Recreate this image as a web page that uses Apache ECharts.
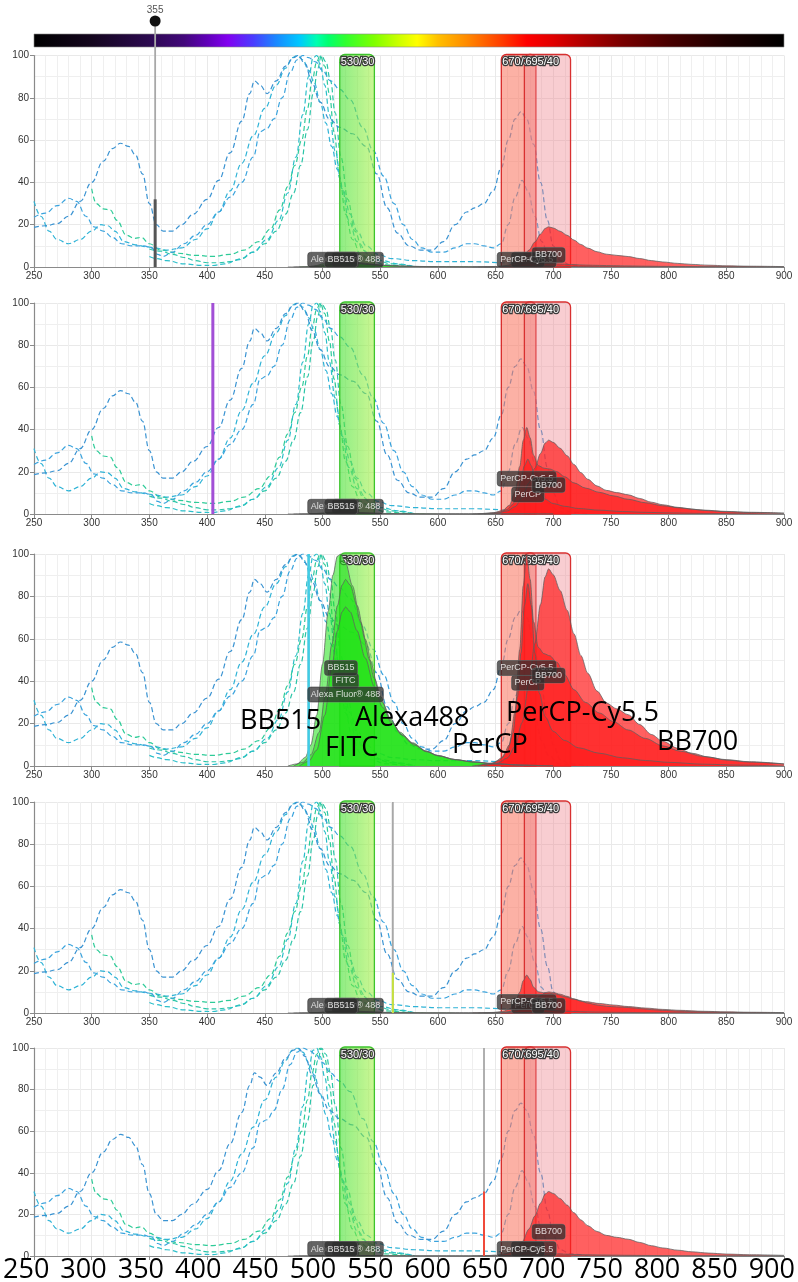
<!DOCTYPE html>
<html><head><meta charset="utf-8">
<script src="https://cdn.jsdelivr.net/npm/echarts/dist/echarts.min.js"></script>
<style>html,body{margin:0;padding:0;background:#fff}#c{width:798px;height:1282px}</style>
</head><body><div id="c"></div>
<script>
// ---------------- DATA ----------------
const xTicks = [250, 300, 350, 400, 450, 500, 550, 600, 650, 700, 750, 800, 850, 900];
const lasers = [355, 405, 488, 561, 640];
const laserSegHeight = [32, 100, 100, 19, 31];

const filterNames = ['530/30', '670/30', '695/40'];
const filterLo = [515, 655, 675];
const filterHi = [545, 685, 715];

// drawing order of the fluorochromes (later ones on top)
const fluorNames = ['FITC', 'Alexa Fluor® 488', 'BB515', 'PerCP', 'PerCP-Cy5.5', 'BB700'];

// excitation spectra (dashed)
const excFITC = [[300,37],[304,30],[310,27.5],[316,27],[322,22],[330,15],[337,13.5],[343,14],[350,11],[360,8],[375,6.5],[390,5.5],[405,5],[420,6],[432,8],[445,12],[455,18],[463,27],[470,38],[476,48],[482,60],[487,75],[491,88],[495,97],[498,100],[502,95],[506,82],[510,64],[515,42],[520,25],[526,13],[533,6],[542,3],[555,1],[575,0]];
const excAlexa = [[350,8.5],[360,7.5],[370,6],[380,4.5],[390,3],[400,2],[410,2],[420,2.5],[430,4],[440,7],[450,11],[460,17],[468,25],[475,35],[481,48],[487,65],[492,82],[496,94],[499,100],[503,97],[507,88],[511,73],[516,52],[522,32],[528,17],[535,8],[545,3.5],[560,1.5],[580,0]];
const excBB515 = [[350,5],[356,4],[365,3],[380,1.5],[395,0.8],[405,0.7],[415,1.5],[428,3.5],[440,7],[452,13],[462,22],[470,35],[477,52],[483,72],[488,90],[492,99],[495,100],[498,96],[502,86],[506,72],[511,55],[517,37],[523,22],[530,12],[540,6],[552,3],[565,1.5],[580,0]];
const excPerCP = [[250,31],[256,24],[263,17],[270,13],[280,11],[290,13],[300,17],[308,20],[314,19.5],[320,17],[328,12],[338,10.5],[348,9.5],[355,9],[365,8],[378,9],[390,13],[400,18],[410,26],[420,36],[430,49],[440,62],[450,75],[460,86],[468,94],[474,99],[478,100],[483,98],[488,93],[493,87],[498,78],[503,68],[508,57],[513,46],[518,36],[524,25],[530,17],[538,10],[548,6],[560,4],[580,3],[600,2.5],[630,2.5],[660,2],[680,1],[700,0]];
const excPerCPCy55 = [[250,23.5],[260,25.5],[270,29],[280,32.5],[287,31],[295,24],[302,19],[310,17],[318,14],[326,11],[335,10],[345,10],[352,9],[357,6],[362,5],[370,7],[380,11],[390,15],[400,20],[410,26],[420,33],[430,40],[440,52],[446,64],[452,65.5],[458,70],[465,80],[472,92],[478,98],[483,100],[488,99],[494,97],[500,93],[507,88],[515,84],[524,79],[535,66],[544,55],[553,43],[562,30],[570,20],[578,13],[586,9],[595,7],[605,7],[615,9],[625,11],[632,11],[640,10],[648,9],[655,11],[661,20],[667,33],[673,41],[678,36],[684,24],[690,12],[696,5],[705,1],[720,0]];
const excBB700 = [[250,18.7],[260,19.5],[270,20.5],[280,24],[290,31],[300,40],[310,50],[318,56],[325,58.5],[332,57],[338,53],[344,44],[350,30],[356,20],[362,17],[370,17],[378,20],[388,25],[400,32],[410,41],[420,54],[430,69],[437,82],[441,88],[446,86],[452,82],[460,88],[468,95],[475,99],[479,100],[485,96],[491,87],[498,78],[506,70],[515,66],[526,63],[538,57],[547,44],[556,28],[565,16],[575,10],[585,8],[595,8],[605,12],[615,20],[625,26],[632,28],[640,30],[648,36],[655,47],[661,60],[667,70],[672,73.5],[677,70],[683,58],[689,40],[695,22],[700,10],[706,3],[715,1],[730,0]];

// emission spectra (normalised shapes, filled)
const emFITC = [[475,0],[483,2],[490,6],[497,18],[503,40],[508,65],[513,86],[517,97],[520,100],[524,97],[530,86],[537,68],[545,47],[552,34],[560,24],[568,17],[578,12],[590,8],[600,5.5],[615,3.5],[630,2.2],[650,1.2],[670,0.5],[700,0]];
const emAlexa = [[480,0],[488,3],[495,10],[502,32],[508,62],[513,85],[517,97],[520,100],[524,97],[530,85],[537,68],[545,50],[552,37],[560,27],[570,19],[580,13],[590,9],[600,6.5],[615,4],[630,2.5],[650,1.3],[670,0.6],[700,0]];
const emBB515 = [[470,0],[478,1],[485,4],[490,10],[495,24],[500,48],[505,73],[509,90],[513,99],[516,100],[520,96],[526,85],[533,68],[541,50],[550,33],[558,23],[567,16],[578,11],[590,7],[600,5],[615,3],[630,2],[650,1],[680,0]];
const emPerCP = [[630,0],[645,1],[653,3],[660,8],[665,18],[669,38],[672,62],[675,88],[678,100],[681,88],[684,62],[688,40],[693,27],[700,19],[710,14],[722,10],[740,7],[760,4.5],[780,3],[800,2],[830,1],[860,0.5],[900,0]];
const emPerCPCy55 = [[635,0],[648,1.5],[656,4],[662,10],[667,26],[671,55],[674,85],[677,100],[680,88],[683,68],[687,56],[692,53],[697,52],[703,49],[710,43],[718,36],[728,30],[740,25],[752,21],[765,17],[780,13],[795,9.5],[810,7],[830,4.5],[850,3],[870,2],[900,1]];
const emBB700 = [[640,0],[652,1.5],[660,4],[667,10],[673,22],[679,42],[684,62],[689,82],[693,96],[696,100],[700,97],[706,89],[712,79],[718,67],[724,56],[730,47],[738,38],[746,32],[755,29],[765,26],[775,21],[785,16],[795,12.5],[808,9],[820,6.5],[835,4.5],[850,3],[870,2],[900,1]];

// per-laser emission brightness (355, 405, 488, 561, 640)
const scaleFITC     = [2, 0.5, 88, 0.5, 0.3];
const scaleAlexa    = [2, 0.5, 75, 1, 0.3];
const scaleBB515    = [3, 1, 100, 0.8, 0.3];
const scalePerCP    = [2, 26, 86, 6, 0.5];
const scalePerCPCy55= [3, 41, 100, 18, 2];
const scaleBB700    = [19, 35, 93, 10, 31];

// spectrum colour bar
const spectrumNm = [250,300,350,380,400,418,440,460,480,495,505,520,545,565,582,600,625,654,677,700,726,760,800,850,900];
const spectrumColors = ['#000000','#14061e','#2c0a50','#42087a','#6000b8','#8200f0','#4a3cff','#1a88ff','#00c8ff','#00ffb0','#00ff70','#30ff30','#80ff00','#c8ff00','#ffff00','#ffc000','#ff8a00','#ff4000','#ff0000','#e00000','#b00000','#780000','#480000','#1c0000','#000000'];

const annoTexts = ['BB515', 'FITC', 'Alexa488', 'PerCP', 'PerCP-Cy5.5', 'BB700'];

// ---------------- STYLE / LAYOUT ----------------
const excList = [excFITC, excAlexa, excBB515, excPerCP, excPerCPCy55, excBB700];
const emList = [emFITC, emAlexa, emBB515, emPerCP, emPerCPCy55, emBB700];
const scaleList = [scaleFITC, scaleAlexa, scaleBB515, scalePerCP, scalePerCPCy55, scaleBB700];
const excColors = ['#2ecb98', '#2bc5a8', '#2bbfca', '#2fb3d6', '#3aa3dd', '#3a93d2'];
const GREEN = 'rgba(30,225,20,0.55)', RED = 'rgba(255,28,28,0.7)';
const emFills = [GREEN, GREEN, GREEN, RED, RED, RED];
const laserColors = ['#555555', '#a24fd6', '#3fcde6', '#c6e23c', '#f04a3a'];
const laserWidths = [3, 3, 2.5, 2, 2];
const gridTops = [55.5, 303, 554, 802, 1048];
const gridHeights = [211.5, 211, 212, 211, 208];
const annoPos = [[240,721],[325,748],[355,718],[452,745],[506,713],[657,742]];
const FONT = 'Liberation Sans, Arial, sans-serif';

const bandFills = [
  new echarts.graphic.LinearGradient(0,0,1,0,[{offset:0,color:'rgba(70,225,55,0.62)'},{offset:1,color:'rgba(170,242,75,0.6)'}]),
  'rgba(250,120,100,0.58)',
  'rgba(238,130,140,0.40)'
];
const bandStrokes = ['#3cc42c', '#d82828', '#d83030'];

function peakOf(arr){ let b=arr[0]; arr.forEach(d=>{ if(d[1]>b[1]) b=d; }); return b[0]; }

function renderBand(params, api){
  const i = api.value(2);
  const p0 = api.coord([api.value(0), 100]);
  const p1 = api.coord([api.value(1), 0]);
  const x = p0[0], y = p0[1]-1, w = p1[0]-p0[0], h = p1[1]-y;
  return {type:'group', children:[
    {type:'rect', shape:{x:x,y:y,width:w,height:h,r:[5,5,0,0]}, style:{fill:bandFills[i], stroke:bandStrokes[i], lineWidth:1.3}},
    {type:'text', z2:20, style:{text:filterNames[i], x:x+1, y:y+2, fill:'#fff', stroke:'#3a3a3a', lineWidth:2.5, fontSize:11, fontFamily:FONT}}
  ]};
}
function renderLaser(params, api){
  const nm = api.value(0), h = api.value(1), p = api.value(2);
  const top = api.coord([nm,100]), bot = api.coord([nm,0]), seg = api.coord([nm,h]);
  const ch = [];
  const topY = p===0 ? 21 : top[1];
  ch.push({type:'line', shape:{x1:top[0],y1:topY,x2:bot[0],y2:bot[1]}, style:{stroke:'#a8a8a8', lineWidth:1.8}});
  ch.push({type:'line', shape:{x1:seg[0],y1:seg[1],x2:bot[0],y2:bot[1]}, style:{stroke:laserColors[p], lineWidth:laserWidths[p]}});
  if (p===0){
    ch.push({type:'circle', shape:{cx:top[0], cy:21, r:5.5}, style:{fill:'#111'}});
    ch.push({type:'text', style:{text:String(nm), x:top[0], y:10, align:'center', verticalAlign:'middle', fill:'#555', fontSize:10, fontFamily:FONT}});
  }
  return {type:'group', children:ch};
}
function renderBar(params, api){
  const a = api.coord([spectrumNm[0],100]), b = api.coord([spectrumNm[spectrumNm.length-1],100]);
  const stops = spectrumNm.map((nm,i)=>({offset:(nm-spectrumNm[0])/(spectrumNm[spectrumNm.length-1]-spectrumNm[0]), color:spectrumColors[i]}));
  return {type:'rect', shape:{x:a[0], y:34, width:b[0]-a[0], height:13}, style:{fill:new echarts.graphic.LinearGradient(0,0,1,0,stops), stroke:'#888', lineWidth:0.6}};
}

const grids=[], xAxes=[], yAxes=[], series=[];
for (let p=0;p<5;p++){
  grids.push({left:34, width:750, top:gridTops[p], height:gridHeights[p]});
  xAxes.push({type:'value', gridIndex:p, min:250, max:900, interval:50,
    axisLine:{show:true, lineStyle:{color:'#8a8a8a', width:1.2}},
    axisTick:{show:true, length:4, lineStyle:{color:'#8a8a8a'}},
    axisLabel:{show:p<4, fontSize:10, color:'#333', fontFamily:FONT, margin:4},
    splitLine:{show:true, lineStyle:{color:'#e9e9e9'}},
    minorTick:{show:false, splitNumber:5},
    minorSplitLine:{show:true, lineStyle:{color:'#efefef'}}});
  yAxes.push({type:'value', gridIndex:p, min:0, max:100, interval:20,
    axisLine:{show:true, lineStyle:{color:'#8a8a8a', width:1.2}},
    axisTick:{show:true, length:4, lineStyle:{color:'#8a8a8a'}},
    axisLabel:{fontSize:10, color:'#333', fontFamily:FONT, margin:5},
    splitLine:{show:true, lineStyle:{color:'#e9e9e9'}},
    minorTick:{show:false, splitNumber:2},
    minorSplitLine:{show:true, lineStyle:{color:'#efefef'}}});

  // excitation dashed curves
  excList.forEach((arr,i)=>{
    series.push({type:'line', xAxisIndex:p, yAxisIndex:p, data:arr, smooth:0.4, smoothMonotone:'x', symbol:'none', silent:true, z:2,
      lineStyle:{type:[5,3], width:1.2, color:excColors[i]}});
  });
  // filter bands
  series.push({type:'custom', xAxisIndex:p, yAxisIndex:p, silent:true, z:3, renderItem:renderBand,
    data: filterLo.map((lo,i)=>[lo, filterHi[i], i]), encode:{x:[0,1]}});
  // emission areas
  emList.forEach((arr,i)=>{
    const s = scaleList[i][p];
    series.push({type:'line', xAxisIndex:p, yAxisIndex:p, smooth:0.3, smoothMonotone:'x', symbol:'none', silent:true, z:4,
      data: arr.map(d=>[d[0], d[1]*s/100]),
      lineStyle:{color:'rgba(95,95,95,0.75)', width:1},
      areaStyle:{color:emFills[i], opacity:1}});
  });
  // colour bar
  if (p===0){
    series.push({type:'custom', xAxisIndex:0, yAxisIndex:0, silent:true, z:5, renderItem:renderBar, data:[[250,900]], encode:{x:[0,1]}});
  }
  // laser line
  series.push({type:'custom', xAxisIndex:p, yAxisIndex:p, silent:true, z:6, renderItem:renderLaser,
    data:[[lasers[p], laserSegHeight[p], p]], encode:{x:0, y:1}});
  // labels
  emList.forEach((arr,i)=>{
    const s = scaleList[i][p];
    series.push({type:'scatter', xAxisIndex:p, yAxisIndex:p, silent:true, z:10+i, symbolSize:1, itemStyle:{color:'rgba(0,0,0,0)'},
      data:[[peakOf(arr), Math.max(s/2, 7.2)]],
      label:{show:true, position:'bottom', distance:0, formatter:fluorNames[i], color:'#fff', fontSize:9, lineHeight:11, fontFamily:FONT,
        backgroundColor:'rgba(45,45,45,0.93)', borderColor:'#777', borderWidth:0.5, borderRadius:3, padding:[2,3,2,3]}});
  });
}
// big tick labels under bottom panel
grids.push({left:18, right:22, top:1257, height:1});
xAxes.push({type:'value', gridIndex:5, min:250, max:900, interval:50, axisLine:{show:false}, axisTick:{show:false}, splitLine:{show:false},
  axisLabel:{show:true, fontSize:27, color:'#000', fontFamily:'Open Sans, Noto Sans, sans-serif', margin:0,
    formatter: v => xTicks.indexOf(v)>=0 ? String(v) : ''}});
yAxes.push({type:'value', gridIndex:5, show:false, min:0, max:1});

const graphics = annoTexts.map((t,i)=>({type:'text', x:annoPos[i][0], y:annoPos[i][1], z:100,
  style:{text:t, fill:'#000', fontSize:27, fontFamily:'Open Sans, Noto Sans, sans-serif', verticalAlign:'middle', align:'left'}}));

const chart = echarts.init(document.getElementById('c'));
chart.setOption({animation:false, grid:grids, xAxis:xAxes, yAxis:yAxes, series:series, graphic:graphics});
</script>
</body></html>
